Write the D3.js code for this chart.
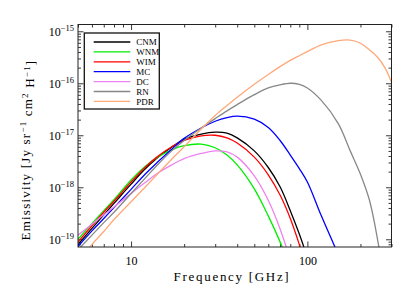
<!DOCTYPE html>
<html lang="en">
<head>
<meta charset="utf-8">
<script src="https://d3js.org/d3.v7.min.js"></script>
<title>Emissivity</title>
<style>
    body { margin: 0; background: #fff; }
    svg { display: block; font-family: "Liberation Serif", "DejaVu Serif", serif; }
</style>
</head>
<body>
<div id="chart"></div>
<script>
    // frequency grid in GHz, emissivity in Jy sr^-1 cm^2 H^-1 (null = below plot)
    const FREQ = [5, 6, 7, 8, 10, 12, 14, 17, 20, 25, 30, 35, 40, 50, 60, 70, 80, 90, 100, 120, 150, 175, 200, 225, 250, 275, 300];

    const CNM = [7.94e-20, 1.62e-19, 2.95e-19, 4.90e-19, 1.15e-18, 2.24e-18, 3.63e-18, 5.89e-18, 8.32e-18, 1.05e-17, 1.15e-17, 1.10e-17, 8.91e-18, 5.01e-18, 2.40e-18, 1.02e-18, 3.55e-19, 1.26e-19, 4.47e-20, null, null, null, null, null, null, null, null];
    const WNM = [1.0e-19, 2.0e-19, 3.55e-19, 5.75e-19, 1.38e-18, 2.51e-18, 3.72e-18, 5.25e-18, 6.31e-18, 6.76e-18, 5.75e-18, 4.17e-18, 2.69e-18, 9.33e-19, 2.82e-19, 8.91e-20, 2.82e-20, null, null, null, null, null, null, null, null, null, null];
    const WIM = [8.91e-20, 1.82e-19, 3.31e-19, 5.37e-19, 1.26e-18, 2.40e-18, 3.80e-18, 6.03e-18, 7.94e-18, 9.77e-18, 1.0e-17, 8.91e-18, 7.08e-18, 3.80e-18, 1.74e-18, 7.08e-19, 2.51e-19, 7.94e-20, 2.51e-20, null, null, null, null, null, null, null, null];
    const MC = [7.24e-20, 1.45e-19, 2.51e-19, 4.07e-19, 9.12e-19, 1.78e-18, 2.95e-18, 5.37e-18, 8.71e-18, 1.38e-17, 1.86e-17, 2.19e-17, 2.34e-17, 2.04e-17, 1.41e-17, 7.94e-18, 4.17e-18, 2.29e-18, 1.26e-18, 2.82e-19, 5.01e-20, null, null, null, null, null, null];
    const DC = [1.20e-19, 1.95e-19, 2.95e-19, 4.17e-19, 7.59e-19, 1.23e-18, 1.82e-18, 2.69e-18, 3.55e-18, 4.47e-18, 5.01e-18, 4.79e-18, 3.80e-18, 1.66e-18, 5.62e-19, 1.58e-19, 3.98e-20, null, null, null, null, null, null, null, null, null, null];
    const RN = [6.31e-20, 1.20e-19, 2.09e-19, 3.31e-19, 7.59e-19, 1.48e-18, 2.63e-18, 5.01e-18, 7.94e-18, 1.38e-17, 2.09e-17, 2.95e-17, 3.89e-17, 6.03e-17, 8.13e-17, 9.33e-17, 1.0e-16, 9.55e-17, 8.13e-17, 4.68e-17, 1.66e-17, 5.01e-18, 1.78e-18, 5.62e-19, 1.0e-19, 1.26e-20, null];
    const PDR = [3.55e-20, 7.94e-20, 1.41e-19, 2.40e-19, 5.25e-19, 1.0e-18, 1.74e-18, 3.47e-18, 6.03e-18, 1.32e-17, 2.40e-17, 3.72e-17, 5.37e-17, 9.55e-17, 1.48e-16, 2.09e-16, 2.75e-16, 3.39e-16, 4.07e-16, 5.50e-16, 6.61e-16, 6.76e-16, 5.89e-16, 4.37e-16, 3.16e-16, 2.0e-16, 1.05e-16];

    const NAMES = ["CNM", "WNM", "WIM", "MC", "DC", "RN", "PDR"];
    const VALUES = [CNM, WNM, WIM, MC, DC, RN, PDR];
    const COLORS = ["#000000", "#00ee00", "#ff0000", "#0000ff", "#ee82ee", "#888888", "#ffa878"];

    const X_DOMAIN = [5, 300];
    const Y_DOMAIN = [7.1e-20, 1.35e-15];
    const X_MAJOR = [10, 100];
    const Y_MAJOR = [1e-19, 1e-18, 1e-17, 1e-16, 1e-15];

    const W = 415, H = 297;
    const M = {left: 78, right: 23.5, top: 24.5, bottom: 50};

    const svg = d3.select("#chart").append("svg").attr("width", W).attr("height", H);

    const x = d3.scaleLog().domain(X_DOMAIN).range([M.left, W - M.right]);
    const y = d3.scaleLog().domain(Y_DOMAIN).range([H - M.bottom, M.top]);

    const xMinor = x.ticks().filter(d => !X_MAJOR.includes(d));
    const yMinor = y.ticks().filter(d => !Y_MAJOR.some(m => Math.abs(m - d) / m < 1e-6));

    function tidy(g) {
        g.select(".domain").remove();
        g.selectAll(".tick line").attr("stroke", "#222").attr("stroke-width", 0.9);
    }

    // ticks on all four sides, pointing in
    svg.append("g").attr("transform", "translate(0," + (H - M.bottom) + ")")
       .call(d3.axisBottom(x).tickValues(xMinor).tickSize(-3).tickFormat("")).call(tidy);
    svg.append("g").attr("transform", "translate(0," + M.top + ")")
       .call(d3.axisTop(x).tickValues(xMinor).tickSize(-3).tickFormat("")).call(tidy);
    svg.append("g").attr("transform", "translate(0," + M.top + ")")
       .call(d3.axisTop(x).tickValues(X_MAJOR).tickSize(-5.5).tickFormat("")).call(tidy);
    svg.append("g").attr("transform", "translate(" + M.left + ",0)")
       .call(d3.axisLeft(y).tickValues(yMinor).tickSize(-3).tickFormat("")).call(tidy);
    svg.append("g").attr("transform", "translate(" + (W - M.right) + ",0)")
       .call(d3.axisRight(y).tickValues(yMinor).tickSize(-3).tickFormat("")).call(tidy);
    svg.append("g").attr("transform", "translate(" + (W - M.right) + ",0)")
       .call(d3.axisRight(y).tickValues(Y_MAJOR).tickSize(-5.5).tickFormat("")).call(tidy);

    const xAxis = svg.append("g").attr("transform", "translate(0," + (H - M.bottom) + ")")
       .call(d3.axisBottom(x).tickValues(X_MAJOR).tickSize(-5.5).tickPadding(9).tickFormat(d3.format("d")))
       .call(tidy);
    xAxis.selectAll("text").attr("font-size", 12).attr("fill", "#000")
         .attr("font-family", "'Liberation Serif', serif");

    const yAxis = svg.append("g").attr("transform", "translate(" + M.left + ",0)")
       .call(d3.axisLeft(y).tickValues(Y_MAJOR).tickSize(-5.5).tickPadding(4))
       .call(tidy);
    yAxis.selectAll("text").each(function(d) {
        const t = d3.select(this).text(null).attr("font-size", 12).attr("fill", "#000")
                    .attr("font-family", "'Liberation Serif', serif");
        t.append("tspan").text("10");
        t.append("tspan").attr("dy", "-0.5em").attr("font-size", 8.5)
         .text("\u2212" + Math.round(-Math.log10(d)));
    });

    svg.append("defs").append("clipPath").attr("id", "plot")
       .append("rect").attr("x", M.left).attr("y", M.top)
       .attr("width", W - M.left - M.right).attr("height", H - M.top - M.bottom);

    const line = d3.line()
        .defined(d => d[1] != null)
        .x(d => x(d[0]))
        .y(d => y(d[1]))
        .curve(d3.curveCatmullRom);

    svg.append("g").attr("clip-path", "url(#plot)")
       .selectAll("path")
       .data(VALUES)
       .join("path")
       .attr("d", v => line(FREQ.map((f, i) => [f, v[i]])))
       .attr("fill", "none")
       .attr("stroke", (v, i) => COLORS[i])
       .attr("stroke-width", 1.3);

    // frame
    svg.append("rect").attr("x", M.left).attr("y", M.top)
       .attr("width", W - M.left - M.right).attr("height", H - M.top - M.bottom)
       .attr("fill", "none").attr("stroke", "#222").attr("stroke-width", 1);

    // legend
    const legend = svg.append("g");
    legend.append("rect").attr("x", 84.3).attr("y", 33).attr("width", 75).attr("height", 76)
          .attr("fill", "#fff").attr("stroke", "#111").attr("stroke-width", 1.3);
    NAMES.forEach((n, i) => {
        const ly = 42 + i * 9.9;
        legend.append("line").attr("x1", 93.7).attr("x2", 130.3).attr("y1", ly).attr("y2", ly)
              .attr("stroke", COLORS[i]).attr("stroke-width", 1.3);
        legend.append("text").attr("x", 136.3).attr("y", ly).attr("dy", "0.35em")
              .attr("font-size", 9).text(n);
    });

    // axis titles
    svg.append("text").attr("x", 232).attr("y", 281).attr("text-anchor", "middle")
       .attr("font-size", 13).attr("letter-spacing", 1.7).text("Frequency [GHz]");

    const yt = svg.append("text").attr("transform", "translate(30,150) rotate(-90)")
       .attr("text-anchor", "middle").attr("font-size", 13).attr("letter-spacing", 1.2);
    yt.append("tspan").text("Emissivity [Jy sr");
    yt.append("tspan").attr("dy", "-0.45em").attr("font-size", 9).text("\u22121");
    yt.append("tspan").attr("dy", "0.45em").text(" cm");
    yt.append("tspan").attr("dy", "-0.45em").attr("font-size", 9).text("2");
    yt.append("tspan").attr("dy", "0.45em").text(" H");
    yt.append("tspan").attr("dy", "-0.45em").attr("font-size", 9).text("\u22121");
    yt.append("tspan").attr("dy", "0.45em").text("]");
</script>
</body>
</html>
